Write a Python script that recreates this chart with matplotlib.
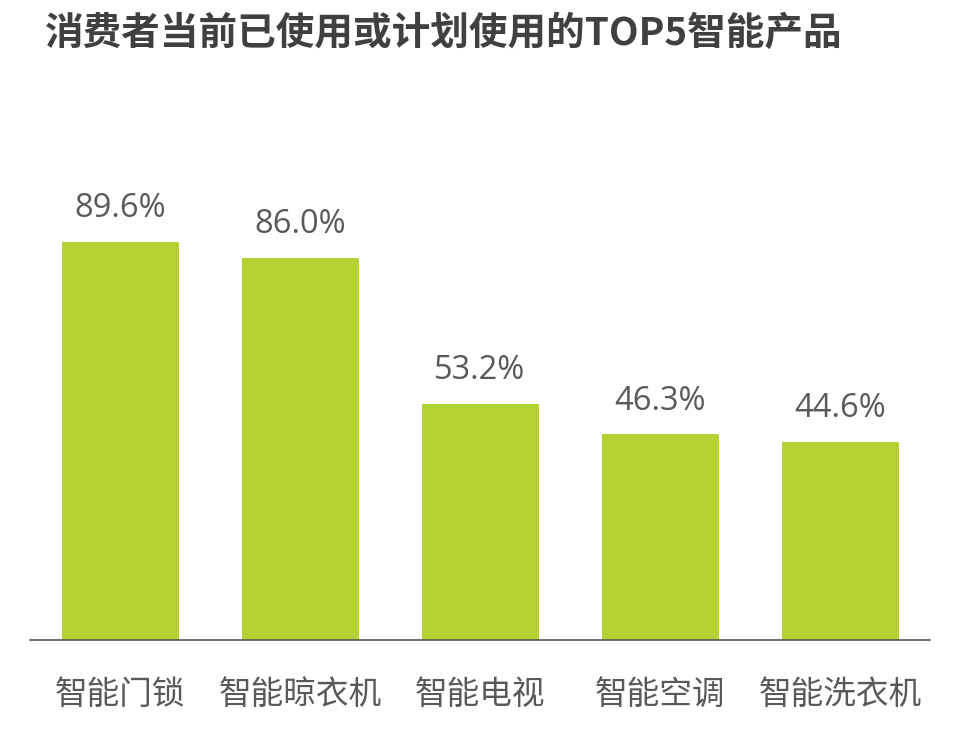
import matplotlib.pyplot as plt

plt.rcParams['font.family'] = ['Noto Sans CJK SC', 'DejaVu Sans']

# data
products = ['智能门锁', '智能晾衣机', '智能电视', '智能空调', '智能洗衣机']
shares = [89.6, 86.0, 53.2, 46.3, 44.6]
title = '消费者当前已使用或计划使用的TOP5智能产品'

fig = plt.figure(figsize=(9.64, 7.33), dpi=100)
ax = fig.add_axes([30 / 964, 93 / 733, 900 / 964, 444 / 733])

x = range(len(products))
ax.bar(x, shares, width=0.65, color='#B3D335')
for i, v in zip(x, shares):
    ax.text(i, v + 3.8, '%.1f%%' % v, ha='center', va='bottom',
            fontsize=23.5, color='#595959', family=['Open Sans', 'DejaVu Sans'])

ax.set_xlim(-0.5, len(products) - 0.5)
ax.set_ylim(0, 100)
ax.set_xticks(list(x))
ax.set_xticklabels(products, fontsize=23.5, color='#595959')
ax.tick_params(axis='x', length=0, pad=28)
ax.set_yticks([])
for s in ['top', 'right', 'left']:
    ax.spines[s].set_visible(False)
ax.spines['bottom'].set_color('#595959')
ax.spines['bottom'].set_linewidth(1.2)

fig.text(45 / 964, 1 - 33 / 733, title, ha='left', va='center',
         fontsize=27.8, fontweight='bold', color='#404040')

fig.savefig('out.png')
